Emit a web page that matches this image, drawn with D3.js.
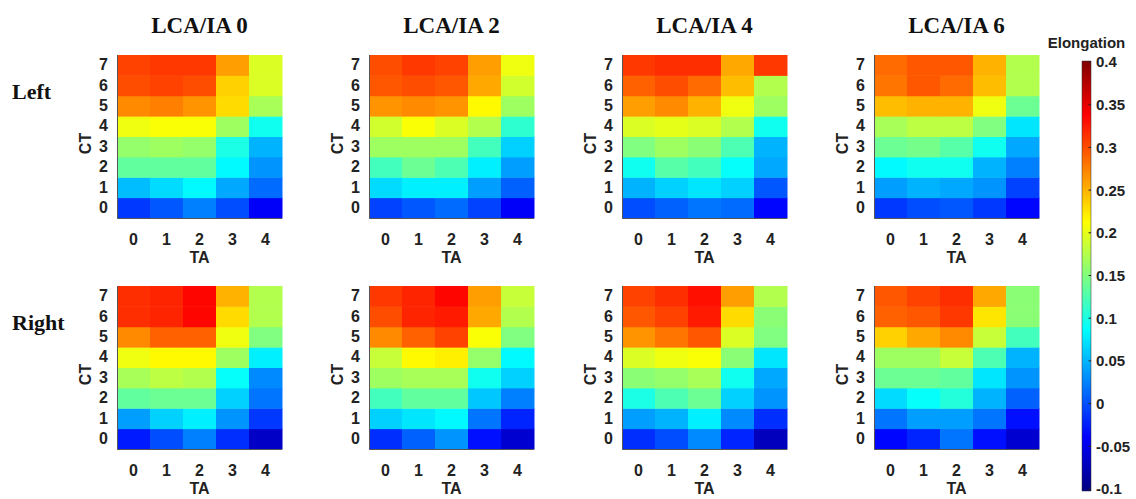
<!DOCTYPE html>
<html>
<head>
<meta charset="utf-8">
<script src="https://cdn.jsdelivr.net/npm/d3@7"></script>
<style>
  body { margin: 0; background: #fff; }
  svg { display: block; }
  .tick text { font-family: "Liberation Sans", Arial, sans-serif; font-weight: bold; font-size: 16px; fill: #222; }
</style>
</head>
<body>
<svg id="chart" width="1136" height="499"></svg>
<script>
const taTicks = [0, 1, 2, 3, 4];
const ctTicks = [0, 1, 2, 3, 4, 5, 6, 7];
const lcaLabels = ["LCA/IA 0", "LCA/IA 2", "LCA/IA 4", "LCA/IA 6"];
const sideLabels = ["Left", "Right"];
const cbTicks = [-0.1, -0.05, 0, 0.05, 0.1, 0.15, 0.2, 0.25, 0.3, 0.35, 0.4];

// rows are CT 0..7 (bottom to top), columns TA 0..4
const left0 = [
	[-0.01, 0.005, 0.025, 0.0, -0.04],
	[0.055, 0.07, 0.085, 0.045, 0.015],
	[0.135, 0.135, 0.135, 0.085, 0.035],
	[0.16, 0.165, 0.16, 0.1, 0.05],
	[0.205, 0.21, 0.21, 0.165, 0.095],
	[0.27, 0.275, 0.265, 0.23, 0.17],
	[0.3, 0.305, 0.3, 0.235, 0.195],
	[0.305, 0.31, 0.31, 0.26, 0.195],
];
const left2 = [
	[-0.005, 0.005, 0.015, -0.005, -0.04],
	[0.07, 0.08, 0.08, 0.04, 0.01],
	[0.12, 0.14, 0.125, 0.08, 0.04],
	[0.165, 0.165, 0.165, 0.12, 0.065],
	[0.19, 0.21, 0.195, 0.175, 0.11],
	[0.265, 0.27, 0.265, 0.215, 0.165],
	[0.295, 0.3, 0.295, 0.255, 0.19],
	[0.3, 0.31, 0.305, 0.26, 0.205],
];
const left4 = [
	[0.0, 0.01, 0.02, 0.015, -0.035],
	[0.05, 0.065, 0.075, 0.065, 0.005],
	[0.095, 0.13, 0.12, 0.09, 0.045],
	[0.15, 0.165, 0.155, 0.125, 0.05],
	[0.195, 0.2, 0.195, 0.175, 0.095],
	[0.26, 0.27, 0.25, 0.205, 0.165],
	[0.29, 0.3, 0.285, 0.245, 0.175],
	[0.31, 0.315, 0.315, 0.255, 0.31],
];
const left6 = [
	[-0.01, 0.0, 0.005, -0.01, -0.035],
	[0.04, 0.05, 0.045, 0.035, -0.005],
	[0.085, 0.095, 0.095, 0.05, 0.025],
	[0.14, 0.145, 0.13, 0.095, 0.045],
	[0.17, 0.18, 0.18, 0.15, 0.075],
	[0.245, 0.25, 0.25, 0.205, 0.14],
	[0.28, 0.295, 0.285, 0.245, 0.175],
	[0.285, 0.295, 0.295, 0.25, 0.175],
];
const right0 = [
	[-0.025, 0.0, 0.025, -0.015, -0.065],
	[0.04, 0.065, 0.08, 0.035, -0.01],
	[0.135, 0.14, 0.14, 0.065, 0.02],
	[0.17, 0.18, 0.175, 0.09, 0.03],
	[0.205, 0.215, 0.215, 0.165, 0.08],
	[0.27, 0.29, 0.29, 0.205, 0.15],
	[0.315, 0.32, 0.335, 0.23, 0.175],
	[0.315, 0.32, 0.335, 0.25, 0.175],
];
const right2 = [
	[-0.015, 0.01, 0.035, -0.03, -0.06],
	[0.065, 0.075, 0.085, 0.02, -0.02],
	[0.12, 0.135, 0.135, 0.06, 0.025],
	[0.165, 0.17, 0.17, 0.095, 0.065],
	[0.185, 0.215, 0.22, 0.16, 0.085],
	[0.27, 0.29, 0.305, 0.21, 0.15],
	[0.3, 0.32, 0.325, 0.255, 0.175],
	[0.31, 0.32, 0.335, 0.26, 0.185],
];
const right4 = [
	[-0.015, 0.0, 0.03, -0.02, -0.07],
	[0.04, 0.05, 0.08, 0.03, -0.015],
	[0.1, 0.125, 0.14, 0.065, 0.035],
	[0.155, 0.16, 0.17, 0.095, 0.045],
	[0.195, 0.205, 0.21, 0.155, 0.075],
	[0.265, 0.28, 0.295, 0.195, 0.15],
	[0.295, 0.305, 0.325, 0.23, 0.155],
	[0.305, 0.315, 0.33, 0.26, 0.175],
];
const right6 = [
	[-0.035, -0.02, 0.02, -0.03, -0.06],
	[0.02, 0.04, 0.04, 0.02, -0.03],
	[0.07, 0.09, 0.105, 0.05, 0.01],
	[0.14, 0.14, 0.135, 0.075, 0.035],
	[0.165, 0.165, 0.185, 0.125, 0.05],
	[0.235, 0.255, 0.27, 0.185, 0.12],
	[0.29, 0.295, 0.31, 0.225, 0.155],
	[0.295, 0.305, 0.315, 0.255, 0.155],
];

const grids = [
	[left0, left2, left4, left6],
	[right0, right2, right4, right6],
];

const svg = d3.select("#chart");

const panelLeft = [117, 369, 622, 874],
	panelTop = [55, 286],
	pw = 165,
	ph = 163;

// jet colormap over [-0.1, 0.4]
const vmin = -0.1,
	vmax = 0.4;
const jetStops = [0, 0.125, 0.375, 0.625, 0.875, 1];
const jetColors = ["#000080", "#0000ff", "#00ffff", "#ffff00", "#ff0000", "#800000"];
const color = d3
	.scaleLinear()
	.domain(jetStops.map((t) => vmin + t * (vmax - vmin)))
	.range(jetColors)
	.clamp(true);

const x = d3.scaleBand().domain(taTicks).range([0, pw]);
const y = d3.scaleBand().domain(ctTicks).range([ph, 0]);

grids.forEach((row, r) => {
	row.forEach((grid, c) => {
		const g = svg.append("g").attr("transform", `translate(${panelLeft[c]},${panelTop[r]})`);

		const cells = [];
		grid.forEach((vals, ct) => vals.forEach((v, ta) => cells.push({ ct, ta, v })));

		g.selectAll(".cell")
			.data(cells)
			.join("rect")
			.attr("class", "cell")
			.attr("x", (d) => x(d.ta))
			.attr("y", (d) => y(d.ct))
			.attr("width", x.bandwidth() + 0.5)
			.attr("height", y.bandwidth() + 0.5)
			.attr("fill", (d) => color(d.v));

		const xAxis = g
			.append("g")
			.attr("transform", `translate(0,${ph})`)
			.call(d3.axisBottom(x).tickSize(0).tickPadding(15.5));
		xAxis.select(".domain").remove();

		const yAxis = g.append("g").call(d3.axisLeft(y).tickSize(0).tickPadding(9));
		yAxis.select(".domain").remove();

		// axis lines
		g.append("path")
			.attr("d", `M0.5,0V${ph + 0.5}H${pw}`)
			.attr("fill", "none")
			.attr("stroke", "#555")
			.attr("stroke-width", 1);

		g.append("text")
			.attr("x", pw / 2)
			.attr("y", ph + 45)
			.attr("text-anchor", "middle")
			.attr("font-family", "Liberation Sans, Arial, sans-serif")
			.attr("font-weight", "bold")
			.attr("font-size", 16)
			.attr("fill", "#222")
			.text("TA");

		g.append("text")
			.attr("transform", `translate(-26,${ph / 2 + 7}) rotate(-90)`)
			.attr("text-anchor", "middle")
			.attr("font-family", "Liberation Sans, Arial, sans-serif")
			.attr("font-weight", "bold")
			.attr("font-size", 16)
			.attr("fill", "#222")
			.text("CT");

		if (r === 0) {
			g.append("text")
				.attr("x", pw / 2)
				.attr("y", -22)
				.attr("text-anchor", "middle")
				.attr("font-family", "Liberation Serif, Times New Roman, serif")
				.attr("font-weight", "bold")
				.attr("font-size", 23)
				.attr("fill", "#111")
				.text(lcaLabels[c]);
		}
	});
});

// side labels
sideLabels.forEach((lbl, r) => {
	svg.append("text")
		.attr("x", 12)
		.attr("y", panelTop[r] + 44)
		.attr("font-family", "Liberation Serif, Times New Roman, serif")
		.attr("font-weight", "bold")
		.attr("font-size", 22)
		.attr("fill", "#111")
		.text(lbl);
});

// colorbar
const cbX = 1082,
	cbW = 9;
const cbScale = d3.scaleLinear().domain([vmin, vmax]).range([489, 62]);

const grad = svg
	.append("defs")
	.append("linearGradient")
	.attr("id", "jet")
	.attr("x1", 0)
	.attr("y1", 1)
	.attr("x2", 0)
	.attr("y2", 0);
grad.selectAll("stop")
	.data(jetStops)
	.join("stop")
	.attr("offset", (d) => d)
	.attr("stop-color", (d, i) => jetColors[i]);

svg.append("rect")
	.attr("x", cbX)
	.attr("y", cbScale(vmax) - 1)
	.attr("width", cbW)
	.attr("height", cbScale(vmin) - cbScale(vmax) + 3)
	.attr("fill", "url(#jet)")
	.attr("stroke", "#333")
	.attr("stroke-width", 0.5);

const cb = svg.append("g").attr("transform", `translate(${cbX + cbW},0)`);
cb.selectAll(".cbtick")
	.data(cbTicks)
	.join("line")
	.attr("class", "cbtick")
	.attr("x1", -2.5)
	.attr("x2", 0)
	.attr("y1", (d) => cbScale(d))
	.attr("y2", (d) => cbScale(d))
	.attr("stroke", "#222")
	.attr("stroke-width", 1);

cb.selectAll(".cblabel")
	.data(cbTicks)
	.join("text")
	.attr("class", "cblabel")
	.attr("x", 5)
	.attr("y", (d) => cbScale(d))
	.attr("dy", "0.36em")
	.attr("font-family", "Liberation Sans, Arial, sans-serif")
	.attr("font-weight", "bold")
	.attr("font-size", 15)
	.attr("fill", "#222")
	.text((d) => String(+d.toFixed(2)));

svg.append("text")
	.attr("x", cbX + cbW / 2)
	.attr("y", 48)
	.attr("text-anchor", "middle")
	.attr("font-family", "Liberation Sans, Arial, sans-serif")
	.attr("font-weight", "bold")
	.attr("font-size", 15)
	.attr("fill", "#222")
	.text("Elongation");
</script>
</body>
</html>
